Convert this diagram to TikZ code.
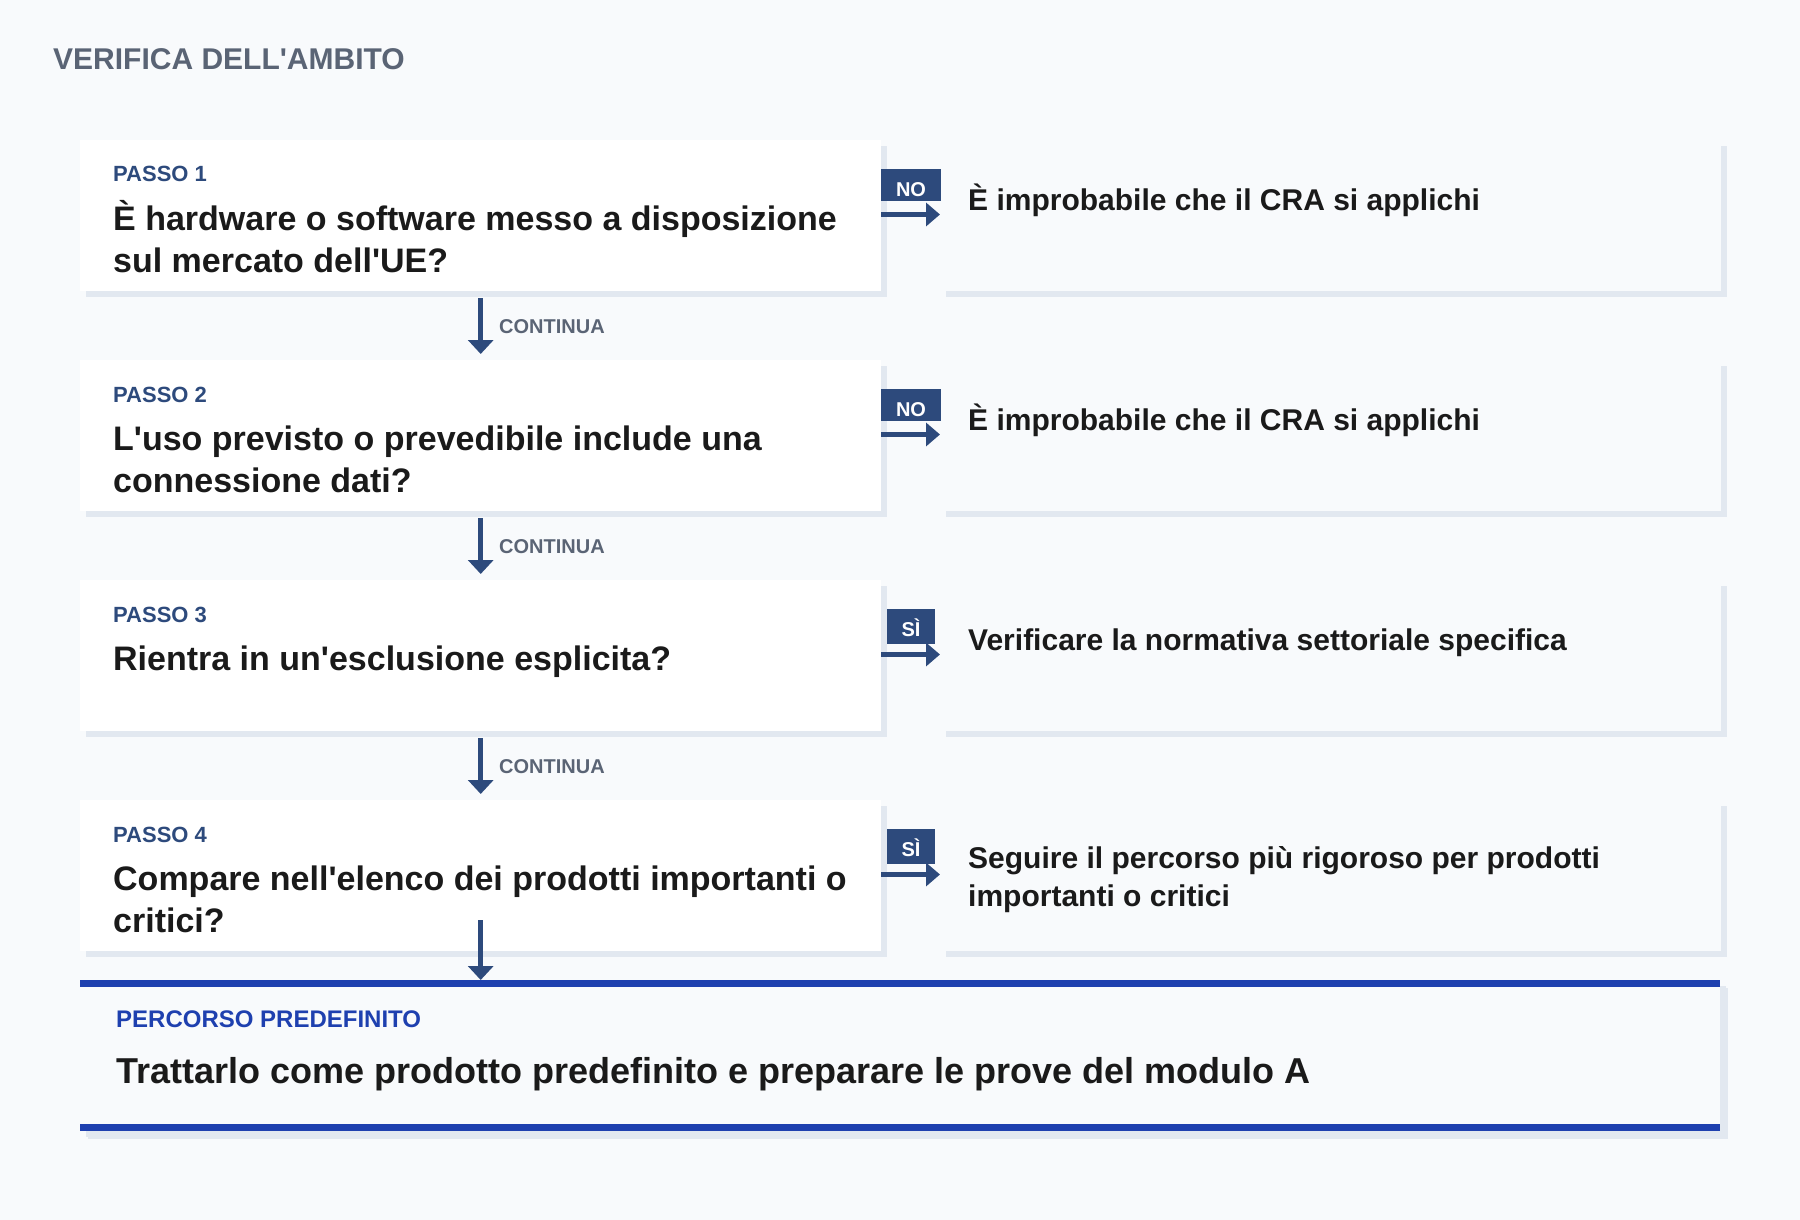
\documentclass[tikz,border=0pt]{standalone}
\usepackage{fontspec}
\setmainfont{Liberation Sans}[Ligatures=TeXOff]
\usetikzlibrary{arrows.meta,shadows}

\definecolor{pagebg}{HTML}{F8FAFC}
\definecolor{shade}{HTML}{E2E8F0}
\definecolor{navy}{HTML}{2D4A7C}
\definecolor{royal}{HTML}{1E40AF}
\definecolor{ink}{HTML}{1A1A1A}
\definecolor{slate}{HTML}{5A6475}

\newcommand{\px}[2]{\fontsize{#1}{#2}\selectfont\bfseries}

\begin{document}
\begin{tikzpicture}[x=1pt, y=-1pt,
    stepbox/.style={fill=white, minimum width=801pt, minimum height=151pt, inner sep=0pt, anchor=north west,
        drop shadow={shadow xshift=6pt, shadow yshift=-6pt, fill=shade, opacity=1}},
    outbox/.style={stepbox, fill=pagebg, minimum width=781pt},
    label/.style={anchor=base west, inner sep=0pt},
    passo/.style={label, text=navy, font=\px{22}{26}},
    question/.style={label, text=ink, align=left, font=\px{34}{42}},
    outtext/.style={label, text=ink, align=left, font=\px{30}{38}},
    badge/.style={anchor=north, fill=navy, text=white, font=\px{20}{24}, inner xsep=15pt, inner ysep=0pt,
        text height=27.5pt, text depth=4pt},
    cont/.style={label, text=slate, font=\px{20}{24}},
    flow/.style={navy, line width=4.5pt, -{Triangle[length=14pt,width=23pt]}},
    down/.style={navy, line width=4.5pt, -{Triangle[length=14pt,width=25pt]}}]

        \fill[pagebg] (0,0) rectangle (1800,1220);
        \useasboundingbox (0,0) rectangle (1800,1220);

        \node[label, text=slate, font=\px{30}{36}] (title) at (53,70) {VERIFICA DELL'AMBITO};

        \node[stepbox] (s1) at (80,140) {};
        \node[stepbox] (s2) at (80,360) {};
        \node[stepbox] (s3) at (80,580) {};
        \node[stepbox] (s4) at (80,800) {};

        \node[outbox] (r1) at (940,140) {};
        \node[outbox] (r2) at (940,360) {};
        \node[outbox] (r3) at (940,580) {};
        \node[outbox] (r4) at (940,800) {};

        \node[passo] (p1) at (113,182) {PASSO 1};
        \node[passo] (p2) at (113,402) {PASSO 2};
        \node[passo] (p3) at (113,622) {PASSO 3};
        \node[passo] (p4) at (113,842) {PASSO 4};

        % base of a two-line node is its last line
        \node[question] (q1) at (113,272) {È hardware o software messo a disposizione\\sul mercato dell'UE?};
        \node[question] (q2) at (113,492) {L'uso previsto o prevedibile include una\\connessione dati?};
        \node[question] (q3) at (113,670) {Rientra in un'esclusione esplicita?};
        \node[question] (q4) at (113,932) {Compare nell'elenco dei prodotti importanti o\\critici?};

        \node[outtext] (o1) at (968,210) {È improbabile che il CRA si applichi};
        \node[outtext] (o2) at (968,430) {È improbabile che il CRA si applichi};
        \node[outtext] (o3) at (968,650) {Verificare la normativa settoriale specifica};
        \node[outtext] (o4) at (968,906) {Seguire il percorso più rigoroso per prodotti\\importanti o critici};

        \draw[flow] ([yshift=-74.5pt]s1.north east) -- ([yshift=-74.5pt]r1.north west);
        \draw[flow] ([yshift=-74.5pt]s2.north east) -- ([yshift=-74.5pt]r2.north west);
        \draw[flow] ([yshift=-74.5pt]s3.north east) -- ([yshift=-74.5pt]r3.north west);
        \draw[flow] ([yshift=-74.5pt]s4.north east) -- ([yshift=-74.5pt]r4.north west);

        \node[badge] (b1) at (911,169) {NO};
        \node[badge] (b2) at (911,389) {NO};
        \node[badge, text depth=7.5pt] (b3) at (911,609) {SÌ};
        \node[badge, text depth=7.5pt] (b4) at (911,829) {SÌ};

        \draw[down] ([yshift=-7pt]s1.south) -- ([yshift=6pt]s2.north);
        \draw[down] ([yshift=-7pt]s2.south) -- ([yshift=6pt]s3.north);
        \draw[down] ([yshift=-7pt]s3.south) -- ([yshift=6pt]s4.north);

        \node[cont] (c1) at (499,333) {CONTINUA};
        \node[cont] (c2) at (499,553) {CONTINUA};
        \node[cont] (c3) at (499,773) {CONTINUA};

        \node[stepbox, fill=pagebg, minimum width=1640pt,
            drop shadow={shadow xshift=8pt, shadow yshift=-8pt, fill=shade, opacity=1}] (f) at (80,980) {};
        \fill[royal] (f.north west) rectangle ([yshift=-7pt]f.north east);
        \fill[royal] ([yshift=7pt]f.south west) rectangle (f.south east);

        \draw[down] ([yshift=31pt]s4.south) -- (s4.south |- f.north);

        \node[label, text=royal, font=\px{24}{28}] (fl) at (116,1027) {PERCORSO PREDEFINITO};
        \node[label, text=ink, font=\px{36}{42}] (ft) at (116,1083) {Trattarlo come prodotto predefinito e preparare le prove del modulo A};
    \end{tikzpicture}
\end{document}
